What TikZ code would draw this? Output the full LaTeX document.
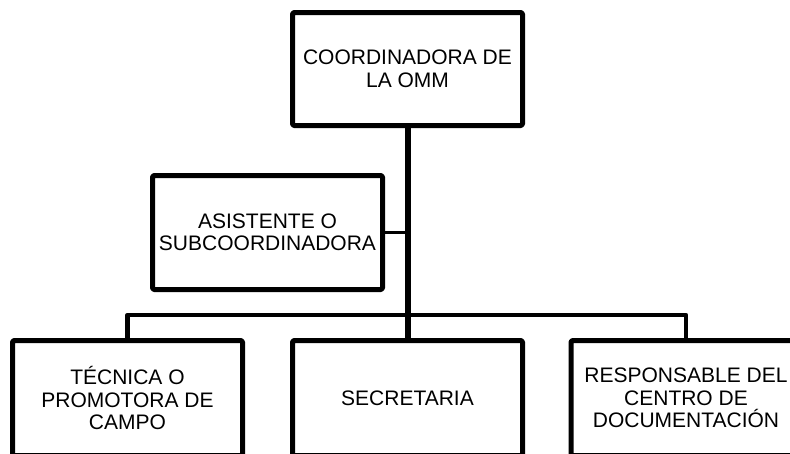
\documentclass[tikz,border=0pt]{standalone}
\usepackage{fontspec}
\setmainfont{Liberation Sans}
\begin{document}
\begin{tikzpicture}[x=1pt,y=-1pt,
  box/.style={draw=black, line width=5pt, line join=round, rounded corners=1.5pt,
    minimum width=230pt, minimum height=113pt, align=center, inner sep=0pt,
    font=\fontsize{21}{22.5}\selectfont, text=black},
  trunk/.style={draw=black, line width=6pt},
  link/.style={draw=black, line width=4.6pt, line join=round},
  thinlink/.style={draw=black, line width=3.6pt}]
\useasboundingbox (0,0) rectangle (790,453);
\clip (0,0) rectangle (790,453);
\node[box] (top) at (407.5,69) {COORDINADORA DE\\LA OMM};
\node[box, minimum height=114pt] (asist) at (267.5,232.5) {ASISTENTE O\\SUBCOORDINADORA};
\node[box, minimum height=115pt] (tec) at (127.5,398) {TÉCNICA O\\PROMOTORA DE\\CAMPO};
\node[box, minimum height=115pt] (sec) at (407.5,398) {SECRETARIA};
\node[box, minimum height=115pt] (resp) at (686,398) {RESPONSABLE DEL\\CENTRO DE\\DOCUMENTACIÓN};
\coordinate (bus) at (407.5,315);
\draw[trunk] (top.south) -- (sec.north);
\draw[thinlink] (asist.east) -- (asist.east -| top.south);
\draw[link] (tec.north) |- (bus) -| (resp.north);
\end{tikzpicture}
\end{document}
